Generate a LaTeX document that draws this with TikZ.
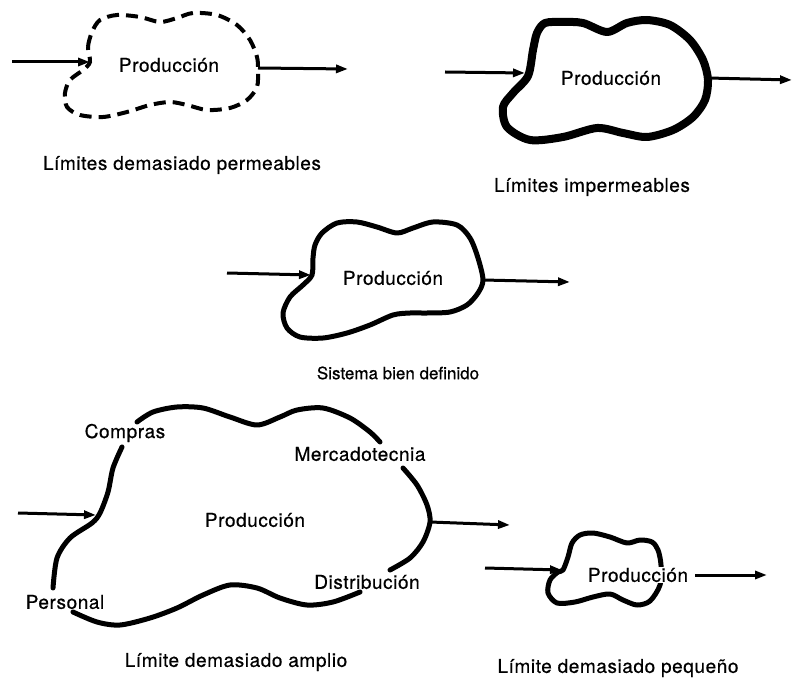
\documentclass[tikz,border=0pt]{standalone}
\usepackage{fontspec}
\setmainfont[LetterSpace=3,FakeBold=0.6]{TeX Gyre Heros}
\newfontfamily\llano[FakeBold=0.6]{TeX Gyre Heros}
\usetikzlibrary{arrows.meta}

\tikzset{
  flecha/.style={-{Triangle[length=12pt,width=8pt]}, line width=3pt},
  borde/.style={line width=5pt, line join=round, line cap=round},
}

\begin{document}
\begin{tikzpicture}[x=1pt, y=-1pt, font=\fontsize{19}{22}\selectfont]
\useasboundingbox (0,0) rectangle (799,684);

% limites demasiado permeables
\draw [line width=4pt, dash pattern=on 12pt off 7pt] plot [smooth cycle] coordinates {(90,62) (88,47) (92,32) (100,20) (117,15) (140,17) (160,22) (177,18) (193,13) (217,15) (237,25) (250,40) (257,57) (258,70) (257,87) (247,100) (230,108) (207,110) (187,105) (170,102) (150,105) (127,112) (103,117) (80,115) (67,107) (65,93) (70,80) (83,70)};
       \node at (169,65) (P1) {Producción};
       \node at (182,165) (L1) {Límites demasiado permeables};
  \coordinate (i1) at (12,62);  \coordinate (b1) at (90,62);
  \coordinate (s1) at (258,68); \coordinate (o1) at (348,69);
\draw[flecha] (i1) -- (b1);
\draw[flecha] (s1) -- (o1);
%
% limites impermeables
\draw [borde, line width=8pt] plot [smooth cycle] coordinates {(528,76) (533,50) (537,33) (545,23) (563,22) (583,23) (607,32) (627,23) (647,20) (670,25) (690,40) (703,60) (708,80) (705,100) (693,117) (673,130) (647,137) (623,133) (597,128) (563,137) (530,140) (507,127) (503,107) (513,93)};
       \node at (611,78) (P2) {Producción};
       \node at (592,187) (L2) {Límites impermeables};
  \coordinate (i2) at (445,72);  \coordinate (b2) at (525,73);
  \coordinate (s2) at (708,78);  \coordinate (o2) at (792,80);
\draw[flecha] (i2) -- (b2);
\draw[flecha] (s2) -- (o2);
%
% sistema bien definido
\draw [borde] plot [smooth cycle] coordinates {(312,275) (313,258) (315,245) (322,233) (337,223) (357,222) (377,227) (397,233) (413,228) (433,222) (457,225) (470,238) (478,258) (483,280) (478,293) (467,305) (450,312) (427,313) (410,313) (393,315) (370,325) (347,333) (323,338) (300,337) (287,328) (283,313) (290,297) (303,285)};
       \node at (393,278) (P3) {Producción};
       \node[font=\llano\fontsize{17}{20}\selectfont] at (398,373) (L3) {Sistema bien definido};
  \coordinate (i3) at (227,273); \coordinate (b3) at (311,275);
  \coordinate (s3) at (483,280); \coordinate (o3) at (570,282);
\draw[flecha] (i3) -- (b3);
\draw[flecha] (s3) -- (o3);
%
% limite demasiado amplio
\draw [borde] plot [smooth] coordinates {(122,447) (113,468) (108,492) (100,513) (92,523) (70,538) (57,558) (53,588)};
\draw [borde] plot [smooth] coordinates {(137,422) (153,412) (177,407) (203,408) (230,417) (257,425) (280,417) (297,410) (323,408) (350,418) (370,432) (380,442)};
\draw [borde] plot [smooth] coordinates {(403,468) (417,485) (427,505) (430,522) (423,542) (410,558) (390,570)};
\draw [borde] plot [smooth] coordinates {(360,592) (333,602) (307,605) (280,598) (257,588) (230,585) (203,595) (177,608) (150,618) (120,625) (97,622) (73,612)};
       \node at (255,520) (P4) {Producción};
       \node at (125,433) (C) {Compras};
       \node at (360,454) (M) {Mercadotecnia};
       \node at (367,582) (D) {Distribución};
       \node at (65,602) (Pe) {Personal};
       \node at (236,662) (L4) {Límite demasiado amplio};
  \coordinate (i4) at (18,513);  \coordinate (b4) at (96,515);
  \coordinate (s4) at (430,522); \coordinate (o4) at (510,525);
\draw[flecha] (i4) -- (b4);
\draw[flecha] (s4) -- (o4);
%
% limite demasiado pequeno
\draw [borde] plot [smooth cycle] coordinates {(563,570) (568,557) (572,543) (580,535) (593,533) (610,537) (627,543) (640,540) (652,542) (658,550) (661,565) (660,585) (650,601) (637,605) (623,600) (610,594) (593,597) (575,602) (557,603) (548,593) (550,580) (558,572)};
       \node[fill=white, inner sep=1pt] at (638,575) (P5) {Producción};
       \node at (618,668) (L5) {Límite demasiado pequeño};
  \coordinate (i5) at (485,568); \coordinate (b5) at (562,570);
  \coordinate (o5) at (767,575);
\draw[flecha] ([xshift=6pt]P5.east) -- (o5);
\draw[flecha] (i5) -- (b5);
%
\end{tikzpicture}
\end{document}
